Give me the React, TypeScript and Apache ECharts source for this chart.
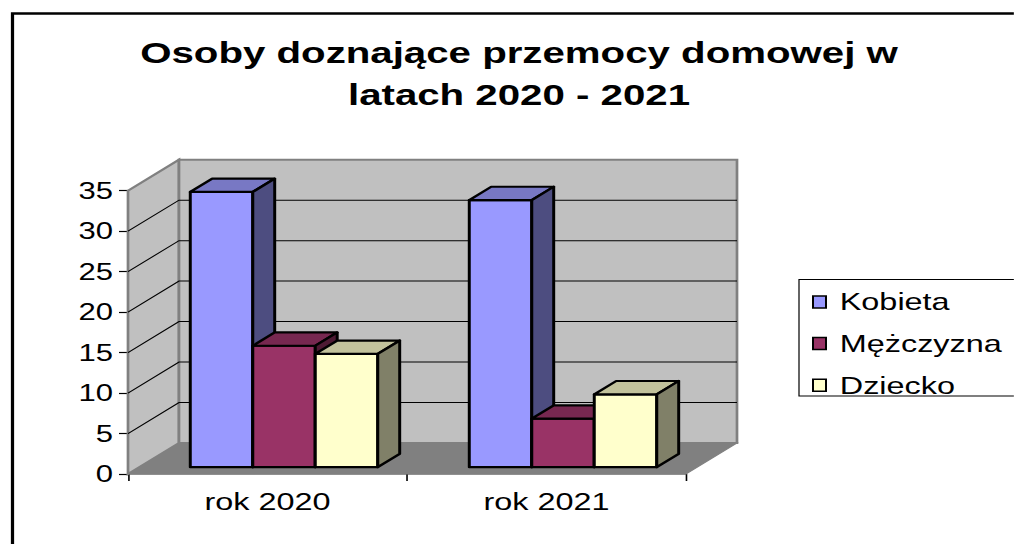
import React, { useEffect, useRef } from 'react';
import * as echarts from 'echarts';

// ---- data ----
const CATEGORIES = ['rok 2020', 'rok 2021'];
const SERIES_NAMES = ['Kobieta', 'Mężczyzna', 'Dziecko'];
const KOBIETA = [34, 33];
const MEZCZYZNA = [15, 6];
const DZIECKO = [14, 9];
const Y_TICKS = [0, 5, 10, 15, 20, 25, 30, 35];
const TITLE_LINES = ['Osoby doznające przemocy domowej w', 'latach 2020 - 2021'];

// ---- styles / layout ----
const SX = 1.35; // the reference is horizontally stretched
const PAGE_W = 1014;
const PAGE_H = 544;
const W = PAGE_W / SX;
const px = (x: number) => x / SX;
const FONT = "'Liberation Sans', Arial, sans-serif";

const FRONT = ['#9999FF', '#993366', '#FFFFCC'];
const TOP = ['#7878C4', '#772850', '#C2C29C'];
const SIDE = ['#4D4D80', '#4D1A33', '#808068'];

const DX = px(51); // depth offset of the back wall
const DY = -31;
const F1 = 0.22; // bar front depth fraction
const F2 = 0.65; // bar back depth fraction
const GROUP_OFFSET = 0.183;
const BAR_W = 0.224;

export default function App() {
  const ref = useRef<HTMLDivElement>(null);

  useEffect(() => {
    document.body.style.overflow = 'hidden';
    const chart = echarts.init(ref.current as HTMLDivElement, undefined, { renderer: 'svg' });

    const renderWalls = (params: any, api: any) => {
      const band = api.size([1, 0])[0];
      const c0 = api.coord([0, Y_TICKS[0]]);
      const c1 = api.coord([CATEGORIES.length - 1, Y_TICKS[0]]);
      const cTop = api.coord([0, Y_TICKS[Y_TICKS.length - 1]]);
      const gL = c0[0] - band / 2;
      const gR = c1[0] + band / 2;
      const gB = c0[1];
      const gT = cTop[1];
      const children: any[] = [];
      children.push({
        type: 'polygon',
        shape: { points: [[gL, gB], [gR, gB], [gR + DX, gB + DY], [gL + DX, gB + DY]] },
        style: { fill: '#808080', stroke: '#808080', lineWidth: 1 },
      });
      children.push({
        type: 'polygon',
        shape: { points: [[gL, gB], [gL, gT], [gL + DX, gT + DY], [gL + DX, gB + DY]] },
        style: { fill: '#C0C0C0', stroke: '#808080', lineWidth: 2 },
      });
      children.push({
        type: 'rect',
        shape: { x: gL + DX, y: gT + DY, width: gR - gL, height: gB - gT },
        style: { fill: '#C0C0C0', stroke: '#808080', lineWidth: 2 },
      });
      Y_TICKS.slice(1, -1).forEach((v) => {
        const y = api.coord([0, v])[1];
        children.push({
          type: 'polyline',
          shape: { points: [[gL, y], [gL + DX, y + DY], [gR + DX, y + DY]] },
          style: { fill: null, stroke: '#000', lineWidth: 1 },
        });
      });
      return { type: 'group', children };
    };

    const renderBar = (k: number) => (params: any, api: any) => {
      const cat = api.value(0);
      const v = api.value(1);
      const band = api.size([1, 0])[0];
      const c0 = api.coord([cat, 0]);
      const c1 = api.coord([cat, v]);
      const w = band * BAR_W;
      const x0 = c0[0] - band / 2 + band * (GROUP_OFFSET + k * BAR_W) + F1 * DX;
      const yb = c0[1] + F1 * DY;
      const yt = c1[1] + F1 * DY;
      const ddx = (F2 - F1) * DX;
      const ddy = (F2 - F1) * DY;
      const st = { stroke: '#000', lineWidth: 2.2, lineJoin: 'round' };
      return {
        type: 'group',
        children: [
          { type: 'rect', shape: { x: x0, y: yt, width: w, height: yb - yt }, style: { ...st, fill: FRONT[k] } },
          {
            type: 'polygon',
            shape: { points: [[x0, yt], [x0 + w, yt], [x0 + w + ddx, yt + ddy], [x0 + ddx, yt + ddy]] },
            style: { ...st, fill: TOP[k] },
          },
          {
            type: 'polygon',
            shape: { points: [[x0 + w, yb], [x0 + w, yt], [x0 + w + ddx, yt + ddy], [x0 + w + ddx, yb + ddy]] },
            style: { ...st, fill: SIDE[k] },
          },
        ],
      };
    };

    const values = [KOBIETA, MEZCZYZNA, DZIECKO];

    const option: any = {
      animation: false,
      title: {
        text: TITLE_LINES.join('\n'),
        left: px(519),
        textAlign: 'center',
        top: 32.5,
        padding: 0,
        textStyle: { fontFamily: FONT, fontSize: 29.8, fontWeight: 'bold', lineHeight: 41.5, color: '#000' },
      },
      legend: {
        orient: 'vertical',
        left: px(812),
        top: 290,
        padding: 0,
        itemGap: 17.6,
        itemWidth: px(13),
        itemHeight: 12,
        icon: 'rect',
        textStyle: { fontFamily: FONT, fontSize: 24, lineHeight: 24, color: '#000', padding: [0, 0, 0, px(7)] },
        itemStyle: { borderColor: '#000', borderWidth: 1.5 },
        data: SERIES_NAMES.map((n, i) => ({ name: n, itemStyle: { color: FRONT[i], borderColor: '#000', borderWidth: 1.5 } })),
      },
      graphic: [
        {
          type: 'rect',
          shape: { x: px(12.5), y: 13.5, width: W, height: PAGE_H },
          style: { fill: 'none', stroke: '#000', lineWidth: 2.4 },
          silent: true,
        },
        {
          type: 'rect',
          shape: { x: px(799), y: 279.5, width: px(260), height: 116.5 },
          style: { fill: 'none', stroke: '#000', lineWidth: 0.9 },
          silent: true,
        },
      ],
      grid: { left: px(128), top: 190.7, width: px(558), height: 283.3 },
      xAxis: {
        type: 'category',
        data: CATEGORIES,
        axisLine: { show: true, lineStyle: { color: '#808080', width: 1.5 } },
        axisTick: { show: true, length: 7, lineStyle: { color: '#000', width: 1.2 } },
        axisLabel: { fontFamily: FONT, fontSize: 24, color: '#000', margin: 16 },
        splitLine: { show: false },
      },
      yAxis: {
        type: 'value',
        min: 0,
        max: 35,
        interval: 5,
        axisLine: { show: true, lineStyle: { color: '#808080', width: 1.5 } },
        axisTick: { show: true, length: px(9), lineStyle: { color: '#000', width: 1.2 } },
        axisLabel: { fontFamily: FONT, fontSize: 23, color: '#000', margin: px(15) },
        splitLine: { show: false },
      },
      series: [
        {
          type: 'custom',
          name: 'walls',
          renderItem: renderWalls,
          data: [[0, 0]],
          silent: true,
          z: 1,
        },
        ...SERIES_NAMES.map((name, k) => ({
          type: 'custom',
          name,
          renderItem: renderBar(k),
          itemStyle: { color: FRONT[k] },
          data: values[k].map((v, i) => [i, v]),
          z: 2,
        })),
      ],
    };

    chart.setOption(option);
    return () => {
      chart.dispose();
    };
  }, []);

  return (
    <div
      ref={ref}
      style={{
        position: 'absolute',
        left: 0,
        top: 0,
        width: `${W}px`,
        height: `${PAGE_H}px`,
        transform: `scaleX(${SX})`,
        transformOrigin: '0 0',
        background: '#fff',
      }}
    />
  );
}
